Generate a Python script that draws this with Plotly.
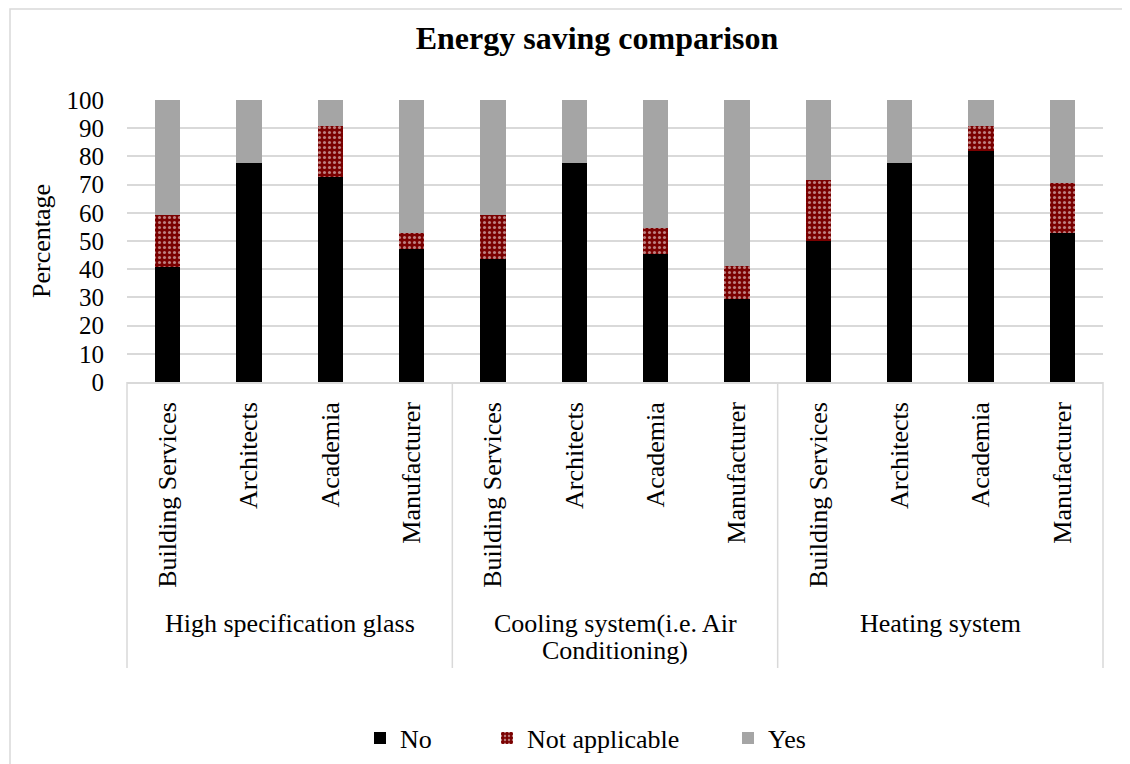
import plotly.graph_objects as go

# ---- data ----
groups = ["High specification glass", "Cooling system(i.e. Air\nConditioning)", "Heating system"]
roles = ["Building Services", "Architects", "Academia", "Manufacturer"]
no_vals = [40.9, 77.8, 72.7, 47.1, 43.5, 77.8, 45.5, 29.4, 50.0, 77.8, 81.8, 52.9]
na_vals = [18.2, 0.0, 18.2, 5.9, 15.7, 0.0, 9.1, 11.8, 21.7, 0.0, 9.1, 17.6]
yes_vals = [40.9, 22.2, 9.1, 47.1, 40.8, 22.2, 45.5, 58.8, 28.3, 22.2, 9.1, 29.4]
y_ticks = list(range(0, 101, 10))

tick_text = [r for g in groups for r in roles]
xpos = list(range(len(tick_text)))
n_roles = len(roles)

FONT = "Liberation Serif"
GRID = "#d9d9d9"
BW = 0.31

# page body has an 8px margin; work in reference-pixel coordinates
OFF = 8
W, H = 1130 - OFF, 764 - OFF
L, R, T, B = 127 - OFF, 1103 - OFF, 100 - OFF, 382 - OFF
pw, ph = R - L, B - T

def py(pix):
    return (B - (pix - OFF)) / ph

def px(pix):
    return ((pix - OFF) - L) / pw

fig = go.Figure()
fig.add_trace(go.Bar(x=xpos, y=no_vals, name="No", width=BW, legend="legend",
                     marker=dict(color="#000000", line=dict(width=0))))
fig.add_trace(go.Bar(x=xpos, y=na_vals, name="Not applicable", width=BW, legend="legend2",
                     marker=dict(color="#7a0000", line=dict(width=0),
                                 pattern=dict(shape=".", fgcolor="#ffffff", bgcolor="#7a0000",
                                              fillmode="overlay", size=5, solidity=0.3))))
fig.add_trace(go.Bar(x=xpos, y=yes_vals, name="Yes", width=BW, legend="legend3",
                     marker=dict(color="#a5a5a5", line=dict(width=0))))

shapes = []
div_bottom = py(668)
shapes.append(dict(type="line", xref="paper", yref="paper", x0=0, x1=0, y0=0, y1=div_bottom,
                   line=dict(color=GRID, width=1.5)))
shapes.append(dict(type="line", xref="paper", yref="paper", x0=1, x1=1, y0=0, y1=div_bottom,
                   line=dict(color=GRID, width=1.5)))
for gi in range(1, len(groups)):
    xd = gi * n_roles - 0.5
    shapes.append(dict(type="line", xref="x", yref="paper", x0=xd, x1=xd, y0=0, y1=div_bottom,
                       line=dict(color=GRID, width=1.5)))
shapes.append(dict(type="rect", xref="paper", yref="paper", x0=px(10), x1=px(1128),
                   y0=py(780), y1=py(9), line=dict(color=GRID, width=1.5), fillcolor="rgba(0,0,0,0)"))

annotations = []
for gi, g in enumerate(groups):
    xc = gi * n_roles + (n_roles - 1) / 2
    for li, line in enumerate(g.split("\n")):
        annotations.append(dict(x=xc, xref="x", y=py(623 + 27 * li), yref="paper", text=line,
                                showarrow=False, xanchor="center", yanchor="middle",
                                font=dict(family=FONT, size=26, color="#000000")))

legend_common = dict(orientation="h", yanchor="middle", y=py(738), xanchor="left",
                     font=dict(family=FONT, size=26, color="#000000"), bgcolor="rgba(0,0,0,0)")
text_starts = [400, 527, 768]

fig.update_layout(
    width=W, height=H,
    margin=dict(l=L, r=W - R, t=T, b=H - B, autoexpand=False),
    barmode="stack",
    paper_bgcolor="white", plot_bgcolor="white",
    font=dict(family=FONT, size=26, color="#000000"),
    title=dict(text="<b>Energy saving comparison</b>", xref="container", x=(597 - OFF) / W,
               xanchor="center", y=1 - (38 - OFF) / H, yanchor="middle",
               font=dict(family=FONT, size=32, color="#000000")),
    xaxis=dict(range=[-0.5, len(xpos) - 0.5], tickvals=xpos, ticktext=tick_text, tickangle=-90,
               showgrid=False, showline=True, linecolor=GRID, linewidth=1.5, ticks="",
               ticklabelstandoff=8, zeroline=False, automargin=False,
               tickfont=dict(family=FONT, size=26, color="#000000")),
    yaxis=dict(range=[0, 100], tickvals=y_ticks, showgrid=True, gridcolor=GRID, gridwidth=1.5,
               zeroline=False, showline=False, ticks="", ticklabelstandoff=22, automargin=False,
               tickfont=dict(family=FONT, size=25, color="#000000"),
               title=dict(text="Percentage", standoff=8, font=dict(family=FONT, size=26, color="#000000"))),
    legend=dict(x=px(text_starts[0] - 40), **legend_common),
    legend2=dict(x=px(text_starts[1] - 40), **legend_common),
    legend3=dict(x=px(text_starts[2] - 40), **legend_common),
    shapes=shapes,
    annotations=annotations,
    showlegend=True,
)

fig.write_html("out.html")
